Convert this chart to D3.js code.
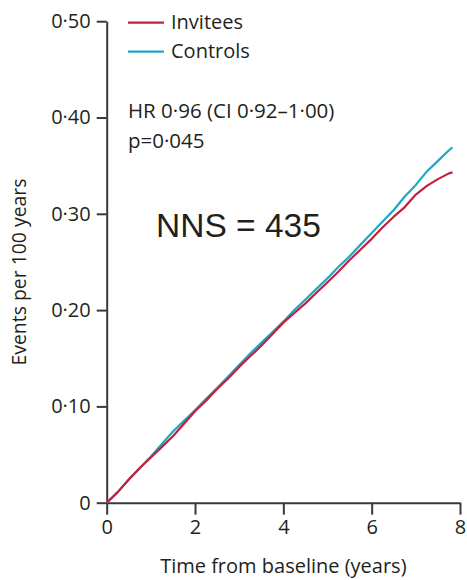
<!DOCTYPE html>
<html>
<head>
<meta charset="utf-8">
<script src="https://cdn.jsdelivr.net/npm/d3@7"></script>
<style>
  html, body { margin: 0; padding: 0; background: #fff; }
  svg { display: block; }
  text { font-family: "Open Sans", "Noto Sans", sans-serif; fill: #231f20; }
</style>
</head>
<body>
<svg id="chart" width="467" height="580"></svg>
<script>
// Cumulative event rate (events per 100 years) by follow-up time
const years = [0, 0.25, 0.5, 0.75, 1.0, 1.25, 1.5, 1.75, 2.0, 2.25, 2.5, 2.75, 3.0, 3.25, 3.5, 3.75,
               4.0, 4.25, 4.5, 4.75, 5.0, 5.25, 5.5, 5.75, 6.0, 6.25, 6.5, 6.75, 7.0, 7.25, 7.5, 7.75, 7.83];
const invitees = [0, 0.011, 0.024, 0.036, 0.047, 0.058, 0.069, 0.082, 0.095, 0.106, 0.118, 0.129, 0.141, 0.152, 0.163, 0.175,
                  0.187, 0.197, 0.207, 0.218, 0.229, 0.240, 0.252, 0.263, 0.274, 0.286, 0.297, 0.307, 0.320, 0.329, 0.336, 0.342, 0.343];
const controls = [0, 0.011, 0.024, 0.036, 0.048, 0.061, 0.074, 0.085, 0.096, 0.108, 0.119, 0.131, 0.143, 0.155, 0.166, 0.177,
                  0.188, 0.200, 0.211, 0.222, 0.233, 0.245, 0.256, 0.268, 0.280, 0.292, 0.304, 0.318, 0.330, 0.344, 0.355, 0.366, 0.369];
const seriesNames = ["Invitees", "Controls"];
const seriesColors = ["#c4203b", "#1ba8c6"];
const xTicks = [0, 2, 4, 6, 8];
const yTicks = [0, 0.1, 0.2, 0.3, 0.4, 0.5];
const yTickLabels = ["0", "0·10", "0·20", "0·30", "0·40", "0·50"];
const statsLines = ["HR 0·96 (CI 0·92–1·00)", "p=0·045"];
const nnsLabel = "NNS = 435";

const svg = d3.select("#chart");
const x = d3.scaleLinear().domain([0, 8]).range([106.7, 460]);
const y = d3.scaleLinear().domain([0, 0.5]).range([502.7, 21.2]);
const axisColor = "#3a3a3a";

// y axis
const yAxis = svg.append("g")
  .attr("transform", `translate(${x(0)},0)`)
  .call(d3.axisLeft(y).tickValues(yTicks).tickSize(10).tickSizeOuter(0).tickPadding(6)
        .tickFormat((d, i) => yTickLabels[i]));
// x axis
const xAxis = svg.append("g")
  .attr("transform", `translate(0,${y(0)})`)
  .call(d3.axisBottom(x).tickValues(xTicks).tickSize(12).tickSizeOuter(0).tickPadding(5)
        .tickFormat(d3.format("d")));

[yAxis, xAxis].forEach(g => {
  g.select(".domain").attr("stroke", axisColor).attr("stroke-width", 2);
  g.selectAll(".tick line").attr("stroke", axisColor).attr("stroke-width", 2);
  g.selectAll(".tick text").attr("font-size", 20).attr("fill", "#231f20")
    .style("font-family", '"Open Sans", sans-serif');
});

// axis titles
svg.append("text")
  .attr("x", (x(0) + x(8)) / 2 - 0)
  .attr("y", 573)
  .attr("text-anchor", "middle")
  .attr("font-size", 20)
  .text("Time from baseline (years)");

svg.append("text")
  .attr("transform", "translate(26,272) rotate(-90)")
  .attr("text-anchor", "middle")
  .attr("font-size", 19.4)
  .text("Events per 100 years");

// lines
const line = d3.line().x((d, i) => x(years[i])).y(d => y(d)).curve(d3.curveLinear);
const series = [invitees, controls];
// controls drawn first so invitees sit on top
[1, 0].forEach(k => {
  svg.append("path")
    .datum(series[k])
    .attr("fill", "none")
    .attr("stroke", seriesColors[k])
    .attr("stroke-width", 2.2)
    .attr("stroke-linejoin", "round")
    .attr("d", line);
});

// legend
const legend = svg.append("g");
seriesNames.forEach((name, i) => {
  const ly = 22.7 + i * 29;
  legend.append("line")
    .attr("x1", 128).attr("x2", 164)
    .attr("y1", ly).attr("y2", ly)
    .attr("stroke", seriesColors[i]).attr("stroke-width", 2.2);
  legend.append("text")
    .attr("x", 171).attr("y", ly + 6.5)
    .attr("font-size", 20)
    .text(name);
});

// hazard ratio annotation
statsLines.forEach((s, i) => {
  svg.append("text")
    .attr("x", 128).attr("y", 118.3 + i * 29.5)
    .attr("font-size", 20.5)
    .text(s);
});

// number needed to screen
svg.append("text")
  .attr("x", 156)
  .attr("y", 237.3)
  .attr("font-size", 33.5)
  .style("font-family", '"Liberation Sans", Arial, sans-serif')
  .attr("fill", "#000")
  .text(nnsLabel);
</script>
</body>
</html>
